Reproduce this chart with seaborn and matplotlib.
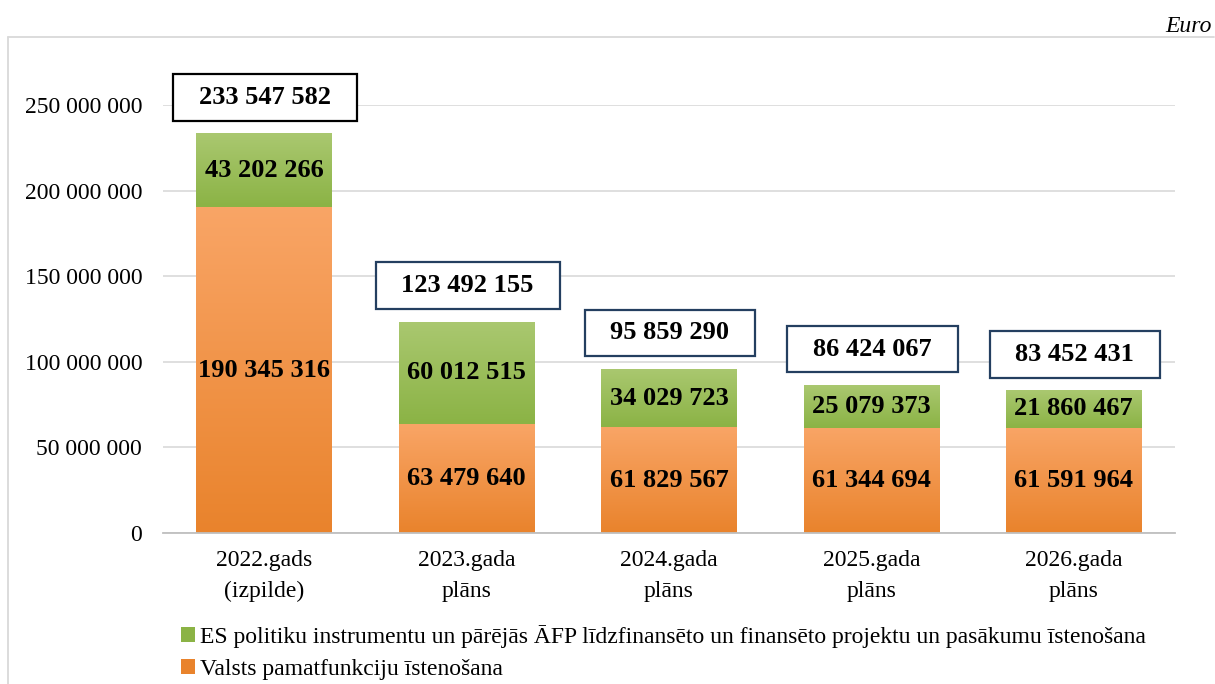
import numpy as np
import pandas as pd
import matplotlib
matplotlib.use("Agg")
import matplotlib.pyplot as plt
import seaborn as sns
from matplotlib.path import Path
from matplotlib.patches import Patch, Rectangle
from matplotlib.lines import Line2D

# ---- data ----
categories = ["2022.gads\n(izpilde)", "2023.gada\nplāns", "2024.gada\nplāns",
              "2025.gada\nplāns", "2026.gada\nplāns"]
base_values = [190345316, 63479640, 61829567, 61344694, 61591964]
eu_values = [43202266, 60012515, 34029723, 25079373, 21860467]
totals = [233547582, 123492155, 95859290, 86424067, 83452431]
series_names = ["ES politiku instrumentu un pārējās ĀFP līdzfinansēto un finansēto projektu un pasākumu īstenošana",
                "Valsts pamatfunkciju īstenošana"]
yticks = [0, 50000000, 100000000, 150000000, 200000000, 250000000]
unit_label = "Euro"

# ---- style ----
sns.set_theme(style="white")
plt.rcParams["font.family"] = ["Liberation Serif", "DejaVu Serif"]
plt.rcParams["text.color"] = "black"
plt.rcParams["axes.labelcolor"] = "black"
plt.rcParams["xtick.color"] = "black"
plt.rcParams["ytick.color"] = "black"

orange_top, orange_bot = "#F9A566", "#E9832C"
green_top, green_bot = "#AAC870", "#8BB345"

def fmt(v):
    return f"{v:,}".replace(",", " ")

df = pd.DataFrame({"cat": categories, "base": base_values, "eu": eu_values, "total": totals})

fig = plt.figure(figsize=(12.15, 6.84), dpi=100)
ax = fig.add_axes([163/1215, 1-533/684, (1175-163)/1215, (533-105)/684])

sns.barplot(data=df, x="cat", y="total", color=green_bot, saturation=1, width=0.67, ax=ax, zorder=2)
sns.barplot(data=df, x="cat", y="base", color=orange_bot, saturation=1, width=0.67, ax=ax, zorder=2)

n = len(categories)

def hex2rgb(h):
    h = h.lstrip("#")
    return np.array([int(h[i:i+2], 16) / 255 for i in (0, 2, 4)])

patches = list(ax.patches)
for i, p in enumerate(patches):
    if i < n:
        top, bot = green_top, green_bot
        y0 = base_values[i]
        h = eu_values[i]
    else:
        top, bot = orange_top, orange_bot
        y0 = 0
        h = base_values[i - n]
    x = p.get_x(); w = p.get_width()
    t = np.linspace(0, 1, 256)[:, None]
    grad = (1 - t) * hex2rgb(top) + t * hex2rgb(bot)
    grad = np.repeat(grad[:, None, :], 2, axis=1)
    im = ax.imshow(grad, extent=[x, x + w, y0, y0 + h], aspect="auto", zorder=2.1,
                   origin="upper", interpolation="bilinear")
    clip = Rectangle((x, y0), w, h, transform=ax.transData)
    im.set_clip_path(clip)
    p.set_facecolor("none")
    p.set_edgecolor("none")

ax.set_ylim(0, 250000000)
ax.set_xlim(-0.5, n - 0.5)

# segment labels
for i in range(n):
    ax.text(i, base_values[i] / 2, fmt(base_values[i]), ha="center", va="center",
            fontsize=19, fontweight="bold", color="black", zorder=5)
    ax.text(i, base_values[i] + eu_values[i] / 2, fmt(eu_values[i]), ha="center", va="center",
            fontsize=19, fontweight="bold", color="black", zorder=5)

def rect_box(x0, y0, width, height, mutation_size):
    px = 0.98 * mutation_size
    py = 0.45 * mutation_size
    verts = [(x0 - px, y0 - py), (x0 + width + px, y0 - py),
             (x0 + width + px, y0 + height + py), (x0 - px, y0 + height + py),
             (x0 - px, y0 - py)]
    return Path(verts, [Path.MOVETO, Path.LINETO, Path.LINETO, Path.LINETO, Path.CLOSEPOLY])

box_edges = ["#000000", "#243F60", "#243F60", "#243F60", "#243F60"]
for i in range(n):
    ax.annotate(fmt(totals[i]), xy=(i, totals[i]), xytext=(1, 36),
                textcoords="offset pixels", ha="center", va="center",
                fontsize=19, fontweight="bold", color="black", zorder=6,
                annotation_clip=False,
                bbox=dict(boxstyle=rect_box, facecolor="white", edgecolor=box_edges[i], linewidth=1.6))

# axes styling
ax.set_yticks(yticks)
ax.set_yticklabels([fmt(v) for v in yticks])
ax.tick_params(axis="y", length=0, pad=15, labelsize=17, colors="black")
ax.tick_params(axis="x", length=0, pad=12, labelsize=17, colors="black")
for lab in ax.get_xticklabels():
    lab.set_linespacing(1.65)
ax.set_xlabel("")
ax.set_ylabel("")
ax.yaxis.grid(True, color="#D9D9D9", linewidth=1.2, zorder=0)
ax.set_axisbelow(True)
for s in ["left", "right", "top"]:
    ax.spines[s].set_visible(False)
ax.spines["bottom"].set_color("#BFBFBF")
ax.spines["bottom"].set_linewidth(1.3)
ax.spines["bottom"].set_zorder(3)

# legend
handles = [Patch(facecolor=green_bot, edgecolor="none"), Patch(facecolor=orange_bot, edgecolor="none")]
leg = fig.legend(handles, series_names, loc="upper left", bbox_to_anchor=(181/1215, 1-625/684),
                 frameon=False, fontsize=17, handlelength=0.6, handleheight=0.6, handletextpad=0.2,
                 labelspacing=0.45, borderpad=0, borderaxespad=0)
for t in leg.get_texts():
    t.set_color("black")

# outer frame and unit label
fig.add_artist(Line2D([8/1215, 8/1215], [1-37/684, 0], color="#D9D9D9", linewidth=1.3))
fig.add_artist(Line2D([8/1215, 1214/1215], [1-37/684, 1-37/684], color="#D9D9D9", linewidth=1.3))
fig.text(1212/1215, 1-26/684, unit_label, ha="right", va="center", fontsize=17,
         style="italic", color="black")

fig.savefig("out.png", dpi=100)
